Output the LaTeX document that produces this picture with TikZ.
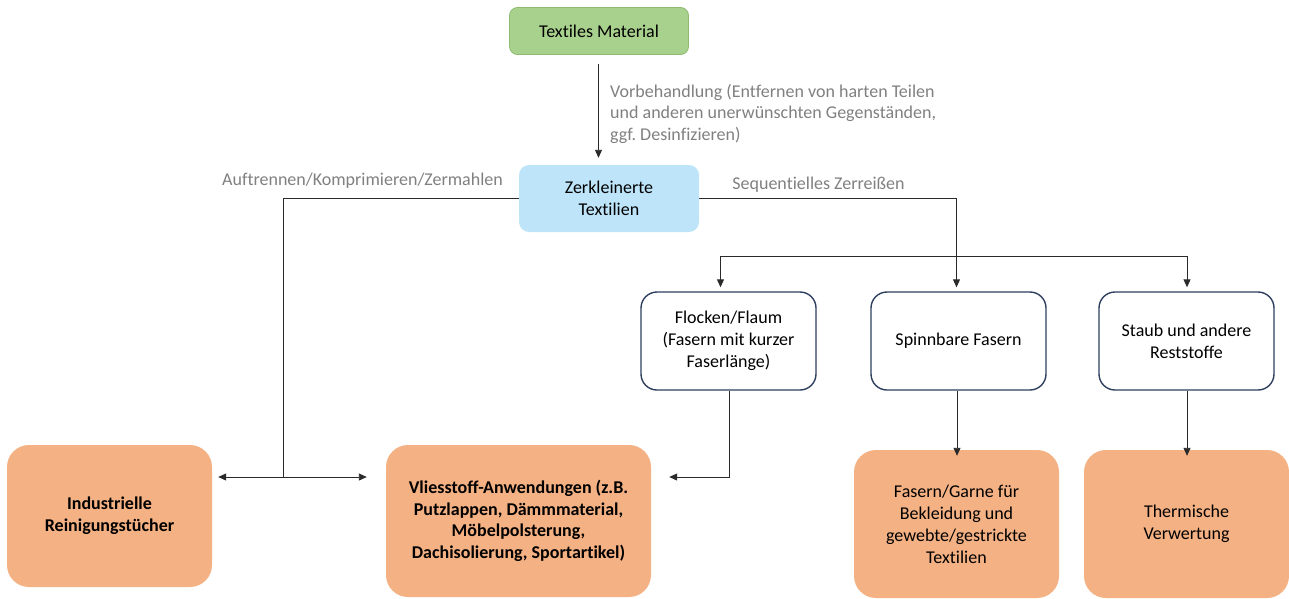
\documentclass[tikz,border=0pt]{standalone}
\usepackage{fontspec}
\setmainfont{Carlito}[Ligatures=NoCommon]
\frenchspacing
\usetikzlibrary{arrows.meta}
\definecolor{matgreen}{HTML}{A9D18E}
\definecolor{matgreenline}{HTML}{8DBB6F}
\definecolor{shredblue}{HTML}{BEE4FA}
\definecolor{outorange}{HTML}{F4B183}
\definecolor{framenavy}{HTML}{2E3F5E}
\definecolor{labelgray}{HTML}{808080}
\definecolor{wire}{HTML}{2A2A2A}
\tikzset{
  base/.style={align=center, inner sep=0pt, font=\fontsize{18}{22}\selectfont, text=black},
  startbox/.style={base, rounded corners=8pt, fill=matgreen, draw=matgreenline, line width=0.8pt,
    minimum width=179pt, minimum height=47pt},
  midbox/.style={base, rounded corners=10pt, fill=shredblue,
    minimum width=180pt, minimum height=67pt},
  fracbox/.style={base, rounded corners=16pt, fill=white, draw=framenavy, line width=1.4pt,
    minimum width=175pt, minimum height=98pt},
  resultbox/.style={base, rounded corners=22pt, fill=outorange,
    minimum width=205pt, minimum height=148pt},
  steplabel/.style={font=\fontsize{18}{21.5}\selectfont, text=labelgray, inner sep=0pt, align=left},
  wireline/.style={draw=wire, line width=0.9pt},
  arr/.style={wireline, -{Triangle[length=8pt,width=7pt]}},
  arrboth/.style={wireline, {Triangle[length=8pt,width=7pt]}-{Triangle[length=8pt,width=7pt]}},
}
\begin{document}
\begin{tikzpicture}[x=1pt,y=-1pt]
\useasboundingbox (0,0) rectangle (1289,598);
\begin{scope}
\clip (0,0) rectangle (1289,598);

% boxes
\node[startbox] (tm) at (599,31) {Textiles Material};
\node[midbox] (zt) at (609,198.5) {Zerkleinerte\\Textilien};

\node[fracbox] (fl) at (728.5,341) {Flocken/Flaum\\(Fasern mit kurzer\\Faserlänge)};
\node[fracbox] (sp) at (958.5,341) {Spinnbare Fasern};
\node[fracbox] (st) at (1186.5,341) {Staub und andere\\Reststoffe};

\node[resultbox, font=\fontsize{18}{22}\selectfont\bfseries, minimum height=142pt] (ir) at (109.5,516) {Industrielle\\Reinigungstücher};
\node[resultbox, font=\fontsize{18}{21.5}\selectfont\bfseries, minimum width=265pt, minimum height=152pt] (vl) at (518.5,521) {Vliesstoff-Anwendungen (z.B.\\Putzlappen, Dämmmaterial,\\Möbelpolsterung,\\Dachisolierung, Sportartikel)};
\node[resultbox] (fg) at (956.5,524) {Fasern/Garne für\\Bekleidung und\\gewebte/gestrickte\\Textilien};
\node[resultbox] (th) at (1186.5,524) {Thermische\\Verwertung};

% pre-treatment step
\draw[arr] ([xshift=-0.5pt,yshift=-9pt]tm.south) -- ([xshift=-10.5pt,yshift=7pt]zt.north);
\node[steplabel, anchor=base west] (vb) at (610,140) {Vorbehandlung (Entfernen von harten Teilen\\und anderen unerwünschten Gegenständen,\\ggf. Desinfizieren)};

% left branch
\node[steplabel, anchor=base] (aux) at (362.5,185) {Auftrennen/Komprimieren/Zermahlen};
\coordinate (lj) at (283,477);
\draw[wireline] (zt.west) -| (lj);
\draw[arrboth] ([xshift=6pt]ir.east |- lj) -- ([xshift=-19pt]vl.west |- lj);

% right branch
\node[steplabel, anchor=base] (sz) at (818.5,189) {Sequentielles Zerreißen};
\coordinate (rj) at (956.5,256);
\draw[arr] (zt.east) -| ([xshift=-2pt,yshift=4pt]sp.north);
\draw[wireline] ([xshift=-8pt]fl.north |- rj) -- ([xshift=0.5pt]st.north |- rj);
\draw[arr] ([xshift=-8pt]fl.north |- rj) -- ([xshift=-8pt,yshift=4pt]fl.north);
\draw[arr] ([xshift=0.5pt]st.north |- rj) -- ([xshift=0.5pt,yshift=4pt]st.north);

% fractions to uses
\coordinate (fj) at (729,477);
\draw[arr] (fl.south -| fj) -- (fj) -- ([xshift=18pt]vl.east |- fj);
\draw[arr] ([xshift=-1.5pt]sp.south) -- ([xshift=0.5pt,yshift=-6pt]fg.north);
\draw[arr] ([xshift=0.5pt]st.south) -- ([xshift=0.5pt,yshift=-6pt]th.north);
\end{scope}
\end{tikzpicture}
\end{document}
